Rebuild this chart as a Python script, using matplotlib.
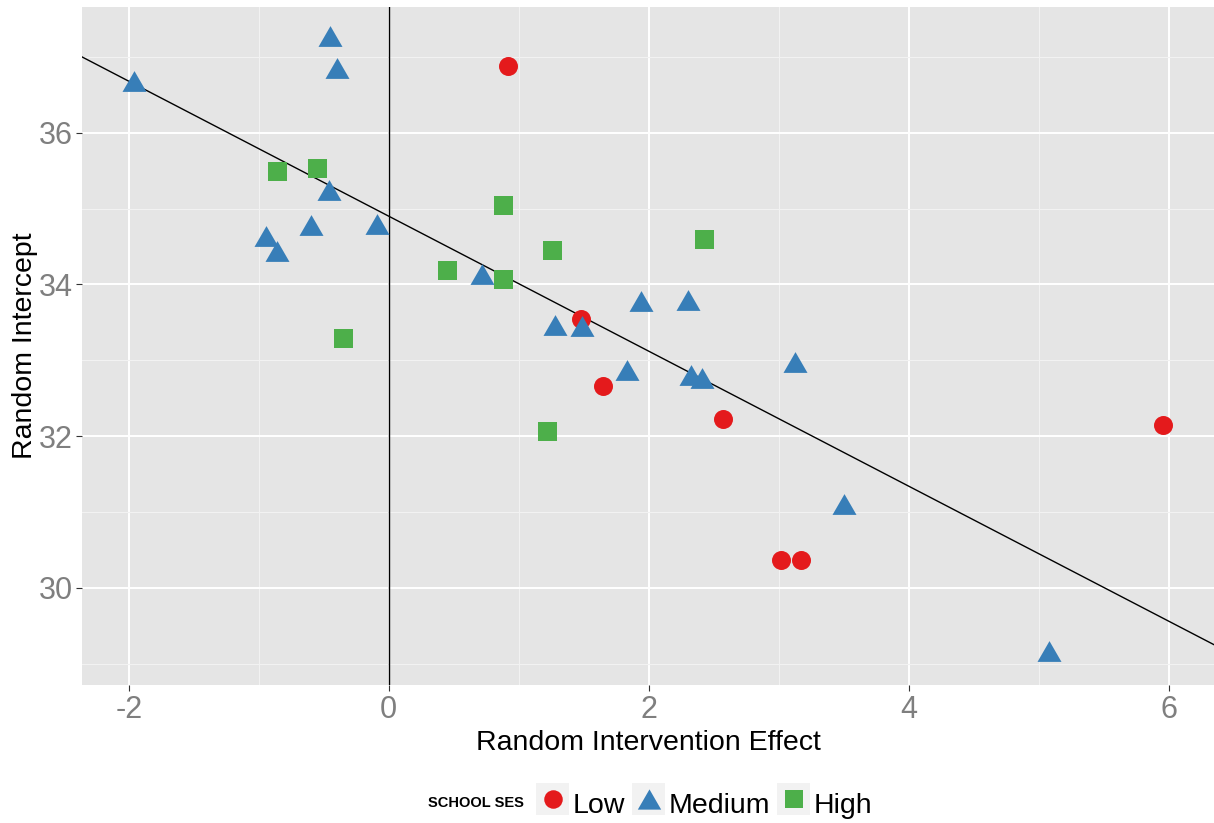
import matplotlib
matplotlib.use("Agg")
import matplotlib.pyplot as plt
from matplotlib.path import Path
from matplotlib.patches import Rectangle
import numpy as np

# ================== DATA ==================
low_x = [0.92, 1.48, 1.65, 2.57, 5.96, 3.02, 3.17]
low_y = [36.88, 33.55, 32.66, 32.22, 32.14, 30.37, 30.37]

medium_x = [-1.96, -0.45, -0.40, -0.46, -0.60, -0.94, -0.86, -0.09, 0.72,
            1.28, 1.49, 1.94, 2.30, 1.83, 2.33, 2.41, 3.13, 3.50, 5.08]
medium_y = [36.68, 37.27, 36.85, 35.24, 34.78, 34.64, 34.44, 34.80, 34.14,
            33.46, 33.45, 33.78, 33.80, 32.87, 32.80, 32.77, 32.97, 31.11, 29.16]

high_x = [-0.86, -0.55, -0.35, 0.45, 0.88, 0.88, 1.26, 2.43, 1.22]
high_y = [35.49, 35.53, 33.29, 34.19, 35.05, 34.07, 34.46, 34.60, 32.07]

ses_labels = ["Low", "Medium", "High"]

# fitted line: intercept ~ slope relation
line_intercept = 34.90
line_slope = -0.89

x_ticks = [-2, 0, 2, 4, 6]
y_ticks = [30, 32, 34, 36]

# ================== STYLE ==================
W, H = 1214, 823
col_low = "#E41A1C"
col_med = "#377EB8"
col_high = "#4DAF4A"
tick_col = "#7F7F7F"
plt.rcParams["font.family"] = ["Liberation Sans", "DejaVu Sans"]
plt.rcParams["axes.unicode_minus"] = False

# equilateral triangle, centred on mid-height
tri = Path([(-1, -0.866), (1, -0.866), (0, 0.866), (-1, -0.866)],
           [Path.MOVETO, Path.LINETO, Path.LINETO, Path.CLOSEPOLY])

px = 72 / 100  # pixels -> points
s_circle = (19 * px) ** 2
s_tri = (24 * px) ** 2
s_square = (19 * px) ** 2

fig = plt.figure(figsize=(W / 100, H / 100), dpi=100)

# panel placed in pixel coords
left, right, top, bottom = 82.3, 1214, 7.3, 685
ax = fig.add_axes([left / W, 1 - bottom / H, (right - left) / W, (bottom - top) / H])
ax.set_facecolor("#E5E5E5")
for sp in ax.spines.values():
    sp.set_visible(False)

ax.set_xlim(-2.357, 6.35)
ax.set_ylim(28.717, 37.654)
ax.set_xticks(x_ticks)
ax.set_yticks(y_ticks)
ax.set_xticks([-1, 1, 3, 5], minor=True)
ax.set_yticks([29, 31, 33, 35, 37], minor=True)
ax.grid(which="major", color="white", linewidth=1.4)
ax.grid(which="minor", color="#F2F2F2", linewidth=0.8)
ax.set_axisbelow(True)
ax.tick_params(which="major", length=4, width=0.8, color="#333333",
               labelsize=22, labelcolor=tick_col, pad=3)
ax.tick_params(which="minor", length=0)

ax.axvline(0, color="black", linewidth=1.0, zorder=2)
ax.axline((0, line_intercept), slope=line_slope, color="black", linewidth=1.0, zorder=2)

ax.scatter(low_x, low_y, s=s_circle, marker="o", color=col_low, linewidths=0, zorder=3)
ax.scatter(medium_x, medium_y, s=s_tri, marker=tri, color=col_med, linewidths=0, zorder=3)
ax.scatter(high_x, high_y, s=s_square, marker="s", color=col_high, linewidths=0, zorder=3)

ax.set_xlabel("Random Intervention Effect", fontsize=20.5, labelpad=4)
ax.set_ylabel("Random Intercept", fontsize=20.5, labelpad=0)

# ================== LEGEND (bottom, horizontal) ==================
lg = fig.add_axes([0, 0, 1, 1])
lg.set_xlim(0, W)
lg.set_ylim(H, 0)
lg.axis("off")
lg.patch.set_alpha(0)

lg.text(428, 807, "SCHOOL SES", fontsize=10.5, fontweight="bold",
        ha="left", va="baseline")
keys = [(536, col_low, "o", s_circle), (632, col_med, tri, s_tri), (777, col_high, "s", s_square)]
for (kx, c, m, s), lab in zip(keys, ses_labels):
    lg.add_patch(Rectangle((kx, 783), 33, 32, facecolor="#F2F2F2", edgecolor="none"))
    lg.scatter([kx + 16.5], [799], s=s * 0.95, marker=m, color=c, linewidths=0)
    lg.text(kx + 37, 813, lab, fontsize=20.5, ha="left", va="baseline")

fig.savefig("out.png", dpi=100)
